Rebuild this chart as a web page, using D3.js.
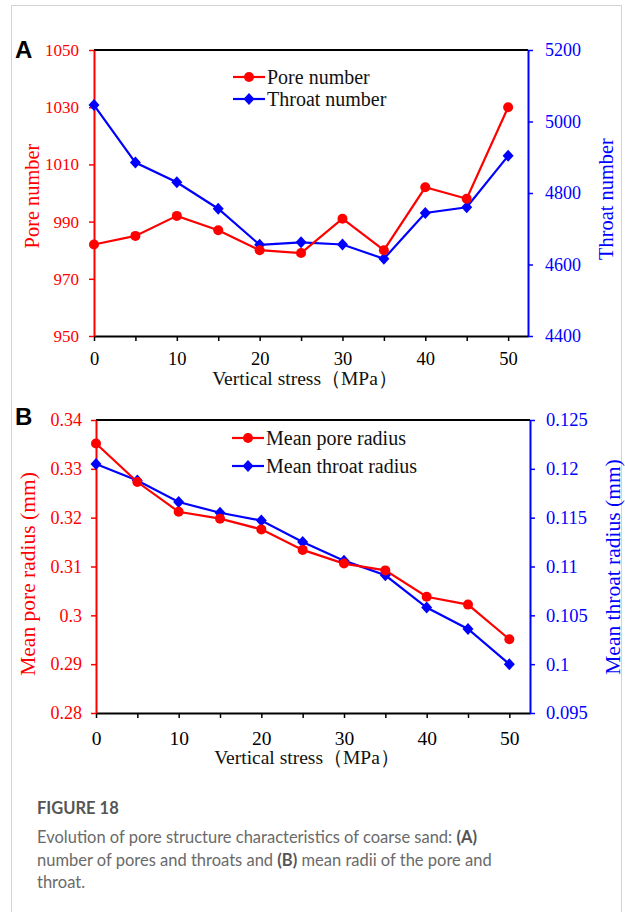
<!DOCTYPE html>
<html>
<head>
<meta charset="utf-8">
<script src="https://cdn.jsdelivr.net/npm/d3@7/dist/d3.min.js"></script>
<style>
  html, body { margin: 0; padding: 0; background: #fff; }
  svg { display: block; }
</style>
</head>
<body>
<svg id="fig" width="625" height="912"></svg>
<script>
// Vertical stress levels (MPa)
const stress = [0, 5, 10, 15, 20, 25, 30, 35, 40, 45, 50];
const stressTicks = [0, 5, 10, 15, 20, 25, 30, 35, 40, 45, 50];
const stressLabels = [0, 10, 20, 30, 40, 50];

// Panel A: counts
const poreNumber = [982, 985, 992, 987, 980, 979, 991, 980, 1002, 998, 1030];
const throatNumber = [5046, 4885, 4830, 4756, 4655, 4662, 4656, 4616, 4744, 4760, 4904];
const poreNumberTicks = [950, 970, 990, 1010, 1030, 1050];
const throatNumberTicks = [4400, 4600, 4800, 5000, 5200];

// Panel B: mean radii (mm)
const meanPoreRadius = [0.3352, 0.3273, 0.3212, 0.3198, 0.3176, 0.3134, 0.3106, 0.3092, 0.3038, 0.3022, 0.2951];
const meanThroatRadius = [0.1205, 0.1188, 0.1166, 0.1155, 0.1147, 0.1125, 0.1106, 0.1091, 0.1058, 0.1036, 0.1000];
const poreRadiusTicks = [0.28, 0.29, 0.30, 0.31, 0.32, 0.33, 0.34];
const throatRadiusTicks = [0.095, 0.100, 0.105, 0.110, 0.115, 0.120, 0.125];

const RED = "#ff0000";
const BLUE = "#0000ff";
const SERIF = "'Liberation Serif', 'Times New Roman', serif";

const svg = d3.select("#fig");

// outer frame
svg.append("rect")
  .attr("x", 11.5).attr("y", 5.5)
  .attr("width", 610).attr("height", 920)
  .attr("fill", "none").attr("stroke", "#d3d3d3").attr("stroke-width", 1);

function drawMarkerCircle(g, x, y, color) {
  g.append("circle").attr("cx", x).attr("cy", y).attr("r", 5).attr("fill", color);
}
function drawMarkerDiamond(g, x, y, color) {
  g.append("path")
    .attr("d", `M${x},${y - 6}L${x + 5.5},${y}L${x},${y + 6}L${x - 5.5},${y}Z`)
    .attr("fill", color);
}

function panel(cfg) {
  const g = svg.append("g");
  const x = d3.scaleLinear().domain([0, cfg.xMax]).range([cfg.left, cfg.right]);
  const yL = d3.scaleLinear().domain(cfg.leftDomain).range([cfg.bottom, cfg.top]);
  const yR = d3.scaleLinear().domain(cfg.rightDomain).range([cfg.bottom, cfg.top]);

  // top frame line
  g.append("line")
    .attr("x1", cfg.left).attr("x2", cfg.right)
    .attr("y1", cfg.top).attr("y2", cfg.top)
    .attr("stroke", "#000").attr("stroke-width", 2);

  // bottom axis
  const xAxis = g.append("g")
    .attr("transform", `translate(0,${cfg.bottom})`)
    .call(d3.axisBottom(x).tickValues(stressTicks).tickSize(5).tickSizeOuter(0)
      .tickFormat(d => stressLabels.includes(d) ? d : ""));
  xAxis.select(".domain").attr("stroke", "#000").attr("stroke-width", 2);
  xAxis.selectAll(".tick line").attr("stroke", "#000").attr("stroke-width", 1.5);
  xAxis.selectAll(".tick text")
    .attr("font-family", SERIF).attr("font-size", cfg.xTickSize).attr("fill", "#000")
    .attr("dy", 0).attr("y", cfg.xTickOffset);

  // left axis
  const lAxis = g.append("g")
    .attr("transform", `translate(${cfg.left},0)`)
    .call(d3.axisLeft(yL).tickValues(cfg.leftTicks).tickSize(5).tickSizeOuter(0)
      .tickFormat(cfg.fmt));
  lAxis.select(".domain").attr("stroke", RED).attr("stroke-width", 2);
  lAxis.selectAll(".tick line").attr("stroke", RED).attr("stroke-width", 1.5);
  lAxis.selectAll(".tick text")
    .attr("font-family", SERIF).attr("font-size", cfg.lTickSize).attr("fill", RED)
    .attr("x", -cfg.lTickGap);

  // right axis
  const rAxis = g.append("g")
    .attr("transform", `translate(${cfg.right},0)`)
    .call(d3.axisRight(yR).tickValues(cfg.rightTicks).tickSize(5).tickSizeOuter(0)
      .tickFormat(cfg.fmt));
  rAxis.select(".domain").attr("stroke", BLUE).attr("stroke-width", 2);
  rAxis.selectAll(".tick line").attr("stroke", BLUE).attr("stroke-width", 1.5);
  rAxis.selectAll(".tick text")
    .attr("font-family", SERIF).attr("font-size", cfg.rTickSize).attr("fill", BLUE)
    .attr("x", cfg.rTickGap);

  // series lines
  const leftLine = d3.line().x((d, i) => x(stress[i])).y(d => yL(d));
  const rightLine = d3.line().x((d, i) => x(stress[i])).y(d => yR(d));

  g.append("path").datum(cfg.rightSeries).attr("d", rightLine)
    .attr("fill", "none").attr("stroke", BLUE).attr("stroke-width", 2.2);
  g.append("path").datum(cfg.leftSeries).attr("d", leftLine)
    .attr("fill", "none").attr("stroke", RED).attr("stroke-width", 2.2);

  cfg.rightSeries.forEach((d, i) => drawMarkerDiamond(g, x(stress[i]), yR(d), BLUE));
  cfg.leftSeries.forEach((d, i) => drawMarkerCircle(g, x(stress[i]), yL(d), RED));

  // legend
  const lg = g.append("g");
  [[cfg.leftName, RED, drawMarkerCircle, cfg.legendY[0]],
   [cfg.rightName, BLUE, drawMarkerDiamond, cfg.legendY[1]]].forEach(([name, color, mk, ly]) => {
    lg.append("line").attr("x1", cfg.legendX).attr("x2", cfg.legendX + 32)
      .attr("y1", ly).attr("y2", ly).attr("stroke", color).attr("stroke-width", 2.2);
    mk(lg, cfg.legendX + 16, ly, color);
    lg.append("text").attr("x", cfg.legendX + 34).attr("y", ly + 6.5)
      .attr("font-family", SERIF).attr("font-size", 20).attr("fill", "#111")
      .text(name);
  });

  // axis titles
  g.append("text")
    .attr("x", (cfg.left + cfg.right) / 2 - 6).attr("y", cfg.xTitleY)
    .attr("text-anchor", "middle")
    .attr("font-family", SERIF).attr("font-size", 19.5).attr("fill", "#111")
    .text("Vertical stress（MPa）");

  g.append("text")
    .attr("transform", `translate(${cfg.lTitleX},${cfg.lTitleCY}) rotate(-90)`)
    .attr("text-anchor", "middle").attr("dy", "0.35em")
    .attr("font-family", SERIF).attr("font-size", cfg.titleSize).attr("fill", RED)
    .text(cfg.leftTitle);

  g.append("text")
    .attr("transform", `translate(${cfg.rTitleX},${cfg.rTitleCY}) rotate(-90)`)
    .attr("text-anchor", "middle").attr("dy", "0.35em")
    .attr("font-family", SERIF).attr("font-size", cfg.titleSize).attr("fill", BLUE)
    .text(cfg.rightTitle);

  // panel letter
  g.append("text")
    .attr("x", 15).attr("y", cfg.letterY)
    .attr("font-family", "'Liberation Sans', Arial, sans-serif")
    .attr("font-weight", "bold").attr("font-size", 24).attr("fill", "#000")
    .text(cfg.letter);
}

const fmtNum = d => String(+d.toFixed(3));

panel({
  letter: "A", letterY: 58,
  left: 94, right: 528, top: 50, bottom: 336, xMax: 52.4,
  leftDomain: [950, 1050], rightDomain: [4400, 5200],
  leftTicks: poreNumberTicks, rightTicks: throatNumberTicks, fmt: fmtNum,
  leftSeries: poreNumber, rightSeries: throatNumber,
  leftName: "Pore number", rightName: "Throat number",
  leftTitle: "Pore number", rightTitle: "Throat number",
  legendX: 233, legendY: [77, 99],
  xTickSize: 18.5, xTickOffset: 29, lTickSize: 17, lTickGap: 15, rTickSize: 18, rTickGap: 17,
  xTitleY: 385, titleSize: 20.4,
  lTitleX: 32, lTitleCY: 196, rTitleX: 606, rTitleCY: 199
});

panel({
  letter: "B", letterY: 425,
  left: 96, right: 530, top: 420, bottom: 713, xMax: 52.5,
  leftDomain: [0.28, 0.34], rightDomain: [0.095, 0.125],
  leftTicks: poreRadiusTicks, rightTicks: throatRadiusTicks, fmt: fmtNum,
  leftSeries: meanPoreRadius, rightSeries: meanThroatRadius,
  leftName: "Mean pore radius", rightName: "Mean throat radius",
  leftTitle: "Mean pore radius (mm)", rightTitle: "Mean throat radius (mm)",
  legendX: 232, legendY: [438, 466],
  xTickSize: 19.5, xTickOffset: 32, lTickSize: 18, lTickGap: 14, rTickSize: 18.5, rTickGap: 16,
  xTitleY: 764, titleSize: 21.5,
  lTitleX: 27, lTitleCY: 574, rTitleX: 612, rTitleCY: 567
});

// caption
const cap = svg.append("g").attr("font-family", "Lato, 'Open Sans', sans-serif");
cap.append("text").attr("x", 37).attr("y", 814)
  .attr("font-size", 16.5).attr("font-weight", 700).attr("fill", "#555")
  .text("FIGURE 18");

const captionLines = [
  [["Evolution of pore structure characteristics of coarse sand: ", false], ["(A)", true]],
  [["number of pores and throats and ", false], ["(B)", true], [" mean radii of the pore and", false]],
  [["throat.", false]]
];
captionLines.forEach((parts, i) => {
  const t = cap.append("text").attr("x", 37).attr("y", 843 + i * 22.5)
    .attr("font-size", 16.5).attr("fill", "#666");
  parts.forEach(([s, bold]) => {
    t.append("tspan").attr("font-weight", bold ? 700 : 400)
      .attr("fill", bold ? "#555" : "#6a6a6a").text(s);
  });
});
</script>
</body>
</html>
